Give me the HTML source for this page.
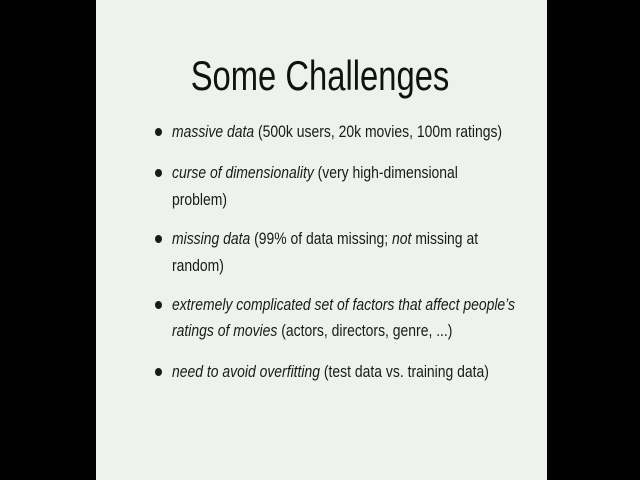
<!DOCTYPE html>
<html><head><style>
body{margin:0;width:640px;height:480px;background:#000;overflow:hidden;font-family:"Liberation Sans",sans-serif;}
#s{position:absolute;left:96px;top:0;width:451px;height:480px;background:#eef2ed;}
.t{position:absolute;left:0;width:640px;top:52px;text-align:center;font-size:42px;color:#111;transform:scaleX(0.78);}
.l{position:absolute;left:172px;font-size:17px;color:#1a1a1a;white-space:nowrap;transform:scaleX(0.82);transform-origin:left;}
.b{position:absolute;left:155px;width:7px;height:8px;border-radius:50%;background:#1a1a1a;}
</style></head><body>
<div id="s"></div>
<div class="t">Some Challenges</div>
<div class="b" style="top:128px"></div>
<div class="l" style="top:122px"><i>massive data</i> (500k users, 20k movies, 100m ratings)</div>
<div class="b" style="top:169px"></div>
<div class="l" style="top:163px"><i>curse of dimensionality</i> (very high-dimensional</div>
<div class="l" style="top:190px">problem)</div>
<div class="b" style="top:235px"></div>
<div class="l" style="top:229px"><i>missing data</i> (99% of data missing; <i>not</i> missing at</div>
<div class="l" style="top:256px">random)</div>
<div class="b" style="top:301px"></div>
<div class="l" style="top:295px"><i>extremely complicated set of factors that affect people’s</i></div>
<div class="l" style="top:321px"><i>ratings of movies</i> (actors, directors, genre, ...)</div>
<div class="b" style="top:368px"></div>
<div class="l" style="top:362px"><i>need to avoid overfitting</i> (test data vs. training data)</div>
</body></html>
